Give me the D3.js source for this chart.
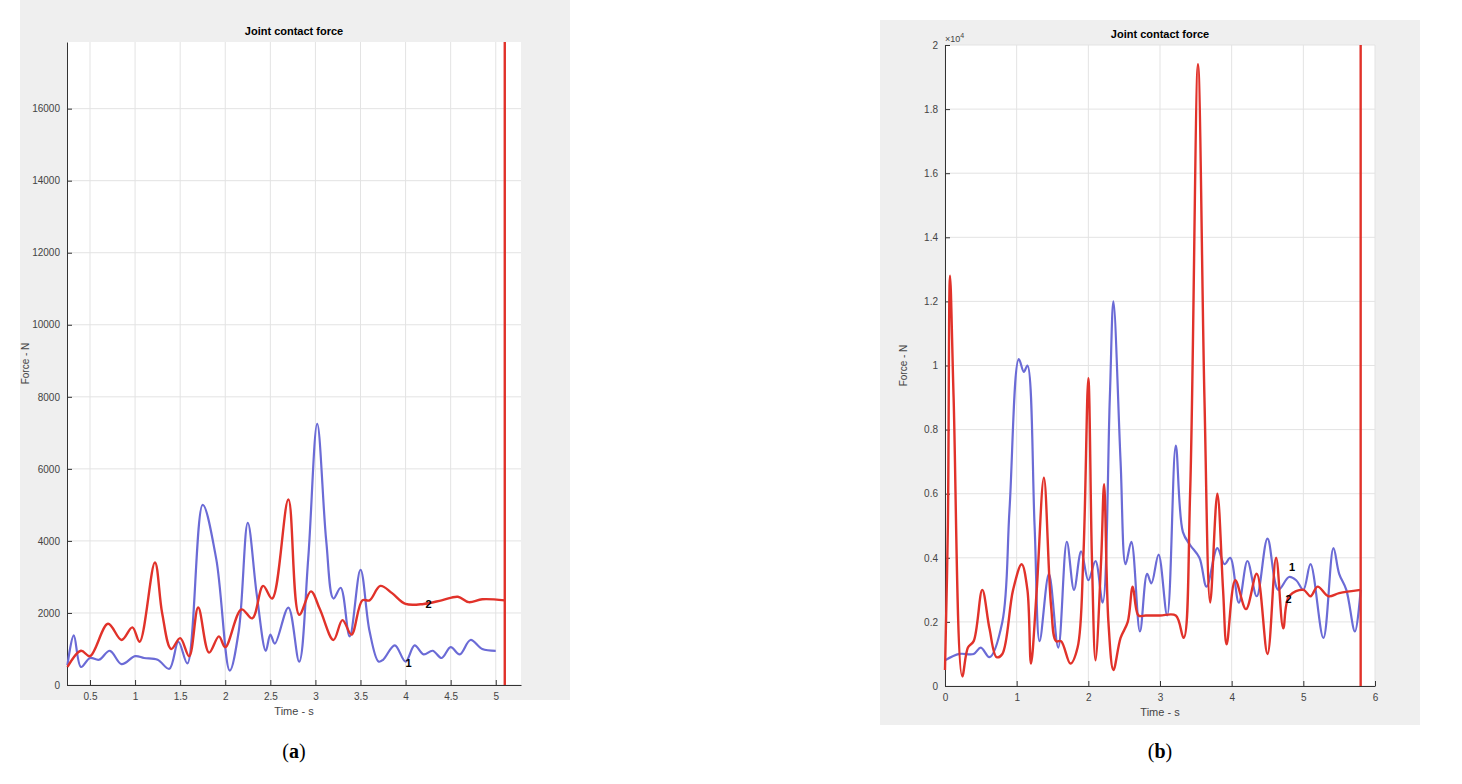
<!DOCTYPE html>
<html><head><meta charset="utf-8">
<script src="https://cdn.jsdelivr.net/npm/d3@7"></script>
<style>body{margin:0;background:#fff;font-family:"Liberation Sans",Arial,sans-serif}</style>
</head><body><svg width="1462" height="784"></svg>
<script>
// panel (a)
var aBlueT = [0.25,0.32,0.4,0.5,0.6,0.72,0.85,1.0,1.1,1.25,1.38,1.48,1.58,1.75,1.9,2.05,2.15,2.25,2.35,2.45,2.5,2.55,2.7,2.82,2.92,3.02,3.12,3.2,3.28,3.38,3.5,3.6,3.7,3.75,3.88,4.0,4.1,4.2,4.3,4.4,4.5,4.6,4.72,4.85,5.0];
var aBlueV = [550,1380,500,750,700,950,580,800,750,700,450,1200,600,5000,3500,400,1500,4500,2500,950,1400,1150,2150,650,3500,7250,4000,2400,2700,1350,3200,1500,650,700,1100,650,1100,850,950,750,1050,850,1250,1000,950];
var aRedT = [0.25,0.4,0.5,0.7,0.85,0.97,1.05,1.22,1.3,1.4,1.5,1.6,1.7,1.82,1.93,2.0,2.18,2.3,2.42,2.52,2.7,2.82,2.95,3.05,3.2,3.3,3.4,3.52,3.6,3.72,3.85,4.0,4.2,4.4,4.58,4.7,4.85,5.1];
var aRedV = [500,950,800,1700,1250,1600,1200,3400,2000,1000,1300,800,2150,900,1350,1050,2100,1850,2750,2400,5150,1950,2600,2100,1250,1800,1400,2350,2350,2750,2550,2250,2250,2350,2450,2300,2380,2350];
var aXTicks = [0.5,1,1.5,2,2.5,3,3.5,4,4.5,5];
var aYTicks = [0,2000,4000,6000,8000,10000,12000,14000,16000];
// panel (b), values in 10^4 N
var bBlueT = [0,0.2,0.4,0.5,0.62,0.8,0.9,1.03,1.1,1.15,1.25,1.32,1.45,1.58,1.7,1.8,1.9,2.0,2.1,2.2,2.3,2.35,2.45,2.52,2.6,2.72,2.82,2.88,2.98,3.1,3.22,3.32,3.42,3.55,3.65,3.8,3.9,3.98,4.1,4.22,4.35,4.5,4.65,4.8,4.9,5.0,5.1,5.28,5.42,5.5,5.6,5.72,5.8];
var bBlueV = [0.08,0.1,0.1,0.12,0.09,0.2,0.55,1.02,0.98,1.0,0.5,0.14,0.35,0.12,0.45,0.3,0.42,0.33,0.39,0.26,0.9,1.2,0.7,0.38,0.45,0.17,0.35,0.32,0.41,0.22,0.75,0.48,0.44,0.4,0.31,0.43,0.38,0.4,0.26,0.39,0.28,0.46,0.3,0.34,0.33,0.3,0.38,0.15,0.43,0.35,0.3,0.17,0.3];
var bRedT = [0,0.04,0.07,0.12,0.24,0.32,0.4,0.52,0.62,0.72,0.8,0.95,1.07,1.15,1.2,1.28,1.38,1.48,1.55,1.62,1.75,1.85,1.93,2.0,2.05,2.1,2.18,2.22,2.28,2.35,2.45,2.55,2.62,2.7,2.8,3.0,3.22,3.33,3.42,3.53,3.62,3.7,3.8,3.88,3.93,4.05,4.2,4.35,4.5,4.62,4.72,4.8,5.0,5.1,5.2,5.35,5.5,5.8];
var bRedV = [0.05,0.5,1.28,0.9,0.03,0.12,0.14,0.3,0.18,0.09,0.1,0.3,0.38,0.3,0.07,0.3,0.65,0.25,0.14,0.14,0.07,0.12,0.4,0.96,0.4,0.08,0.4,0.63,0.2,0.05,0.15,0.2,0.31,0.22,0.22,0.22,0.22,0.15,0.6,1.94,0.9,0.26,0.6,0.3,0.13,0.33,0.24,0.35,0.1,0.4,0.18,0.28,0.3,0.28,0.31,0.28,0.29,0.3];
var bXTicks = [0,1,2,3,4,5,6];
var bYTicks = [0,0.2,0.4,0.6,0.8,1,1.2,1.4,1.6,1.8,2];

var svg = d3.select('svg');
var blue = '#6b6bd6', red = '#e1322a';

function panel(o) {
    svg.append('rect').attr('x', o.bg[0]).attr('y', o.bg[1]).attr('width', o.bg[2]).attr('height', o.bg[3]).attr('fill', '#efefef');
    var x = d3.scaleLinear().domain(o.xd).range([o.l, o.r]);
    var y = d3.scaleLinear().domain(o.yd).range([o.b, o.t]);
    svg.append('rect').attr('x', o.l).attr('y', o.t).attr('width', o.r - o.l).attr('height', o.b - o.t).attr('fill', '#fff');
    var g = svg.append('g');
    g.selectAll('.gx').data(o.xt).enter().append('line')
        .attr('x1', x).attr('x2', x).attr('y1', o.t).attr('y2', o.b).attr('stroke', '#e3e3e3');
    g.selectAll('.gy').data(o.yt).enter().append('line')
        .attr('y1', y).attr('y2', y).attr('x1', o.l).attr('x2', o.r).attr('stroke', '#e3e3e3');
    svg.append('g').attr('transform', 'translate(0,' + o.b + ')')
        .call(d3.axisBottom(x).tickValues(o.xt).tickSize(-5).tickSizeOuter(0).tickFormat(d3.format('')))
        .call(function (a) { a.selectAll('text').attr('dy', '1.2em').attr('fill', '#444').style('font-size', '10px'); a.select('.domain').attr('stroke', '#333'); a.selectAll('.tick line').attr('stroke', '#333'); });
    svg.append('g').attr('transform', 'translate(' + o.l + ',0)')
        .call(d3.axisLeft(y).tickValues(o.yt).tickSize(-5).tickSizeOuter(0).tickFormat(d3.format('')))
        .call(function (a) { a.selectAll('text').attr('dx', '-0.4em').attr('fill', '#444').style('font-size', '10px'); a.select('.domain').attr('stroke', '#333'); a.selectAll('.tick line').attr('stroke', '#333'); });
    var line = d3.line().curve(d3.curveCatmullRom.alpha(0.5)).x(function (d) { return x(d[0]); }).y(function (d) { return y(d[1]); });
    svg.append('path').datum(d3.zip(o.bt, o.bv)).attr('d', line).attr('fill', 'none').attr('stroke', blue).attr('stroke-width', 2.2);
    svg.append('path').datum(d3.zip(o.rt, o.rv)).attr('d', line).attr('fill', 'none').attr('stroke', red).attr('stroke-width', 2.4);
    svg.append('line').attr('x1', x(o.vl)).attr('x2', x(o.vl)).attr('y1', o.t).attr('y2', o.b).attr('stroke', red).attr('stroke-width', 2.4);
    svg.append('text').attr('x', (o.l + o.r) / 2).attr('y', o.t - 7).attr('text-anchor', 'middle').style('font-size', '11px').style('font-weight', 'bold').text('Joint contact force');
    svg.append('text').attr('x', (o.l + o.r) / 2).attr('y', o.b + 30).attr('text-anchor', 'middle').style('font-size', '11px').attr('fill', '#444').text('Time - s');
    svg.append('text').attr('transform', 'translate(' + (o.l - 38) + ',' + (o.t + o.b) / 2 + ') rotate(-90)').attr('text-anchor', 'middle').style('font-size', '10px').attr('fill', '#444').text('Force - N');
    o.lab.forEach(function (d) {
        svg.append('text').attr('x', x(d[0])).attr('y', y(d[1])).style('font-size', '11px').style('font-weight', 'bold').text(d[2]);
    });
    svg.append('text').attr('x', (o.l + o.r) / 2).attr('y', 758).attr('text-anchor', 'middle').style('font-size', '20px').attr('font-family', 'Liberation Serif').html('(<tspan font-weight="bold">' + o.name + '</tspan>)');
}

panel({bg: [20, 0, 550, 700], l: 67, r: 521, t: 42, b: 685, xd: [0.245, 5.28], yd: [0, 17850],
    xt: aXTicks, yt: aYTicks, bt: aBlueT, bv: aBlueV, rt: aRedT, rv: aRedV, vl: 5.1,
    lab: [[4.0, 500, '1'], [4.22, 2130, '2']], name: 'a'});
panel({bg: [880, 20, 540, 705], l: 945, r: 1375, t: 45, b: 686, xd: [0, 6], yd: [0, 2],
    xt: bXTicks, yt: bYTicks, bt: bBlueT, bv: bBlueV, rt: bRedT, rv: bRedV, vl: 5.8,
    lab: [[4.8, 0.36, '1'], [4.75, 0.26, '2']], name: 'b'});
svg.append('text').attr('x', 945).attr('y', 42).style('font-size', '9px').attr('fill', '#444').html('×10<tspan dy="-4" font-size="7px">4</tspan>');
</script></body></html>
